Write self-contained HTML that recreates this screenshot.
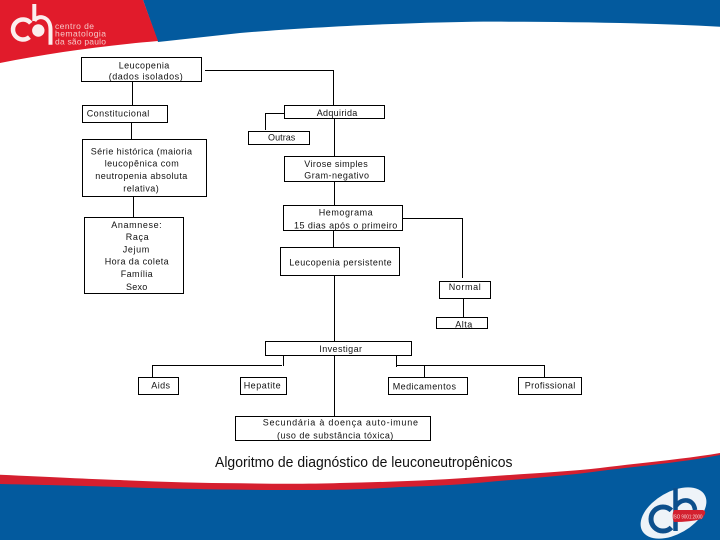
<!DOCTYPE html>
<html><head><meta charset="utf-8">
<style>
html,body{margin:0;padding:0;background:#fff;width:720px;height:540px;overflow:hidden}
svg{display:block}
text{font-family:"Liberation Sans",Arial,sans-serif;font-size:9px;fill:#111}
</style></head><body>
<svg width="720" height="540" viewBox="0 0 720 540" xmlns="http://www.w3.org/2000/svg">
<!-- top banner -->
<path d="M143,0H720V26.700C640,22.500 560,21.500 473,21.700C390,23 300,28 240,33L158,42Z" fill="#035a9e"/>
<path d="M0,0H143L158,41C100,46 50,53 0,63Z" fill="#e11b2b"/>
<!-- top logo -->
<circle cx="23" cy="29.500" r="10" fill="none" stroke="#fbeeee" stroke-width="4.500" stroke-dasharray="47 16" transform="rotate(50 23 29.500)"/>
<circle cx="38.300" cy="30.500" r="6.200" fill="#fbeeee"/>
<path d="M34.300,4V21M34.300,21C37,15 50,15 50.500,29V44.700" fill="none" stroke="#fbeeee" stroke-width="4"/>
<text x="55" y="29" textLength="39" style="font-size:8.500px;fill:#f6c9c9">centro de</text>
<text x="55" y="36.700" textLength="51" style="font-size:8.500px;fill:#f6c9c9">hematologia</text>
<text x="55" y="44.700" textLength="51" style="font-size:8.500px;fill:#f6c9c9">da são paulo</text>
<!-- bottom banner -->
<path d="M0,474.700C50,477 90,479 120,480C160,482 200,483 240,483.300C280,484 310,484 340,483C390,482 440,480 480,477C520,474 565,472 600,468C640,463 685,459 720,453V540H0Z" fill="#d51f2f"/>
<path d="M0,484C50,485 90,486 120,487C170,489 240,490 300,490C340,490 370,489 400,487C430,486 455,485 480,482.700C520,479 565,476 600,471C640,466 685,462 720,455V540H0Z" fill="#035a9e"/>
<!-- bottom logo -->
<ellipse cx="673.500" cy="513" rx="36" ry="21" transform="rotate(-30 673.500 513)" fill="#eef3f8"/>
<circle cx="663" cy="519" r="12" fill="none" stroke="#0d4f8c" stroke-width="5" stroke-dasharray="56 19" transform="rotate(45 663 519)"/>
<path d="M675.500,488V531M676,506C682,497 694,499 695,510" fill="none" stroke="#0d4f8c" stroke-width="4.500"/>
<path d="M674,510H703Q706,511 705,514L702,519Q690,522 674,522Q671,516 674,510Z" fill="#d3202f"/>
<text x="672.500" y="518.500" textLength="30" lengthAdjust="spacingAndGlyphs" style="font-size:5.500px;fill:#f5dada">ISO 9001:2000</text>
<!-- connectors -->
<g fill="none" stroke="#000" stroke-width="1">
<path d="M205,70.500H333.500V105.500"/>
<path d="M132.500,82V105"/>
<path d="M131.500,122V139"/>
<path d="M133.500,197V217"/>
<path d="M284,113.500H265.500V130"/>
<path d="M334.500,118V156"/>
<path d="M334.500,182V205"/>
<path d="M403,218.500H462.500V278"/>
<path d="M333.500,230V247"/>
<path d="M334.500,275V341"/>
<path d="M463.500,298V317"/>
<path d="M334.500,356V416"/>
<path d="M283.500,356V366"/>
<path d="M282,365.500H152.500V378"/>
<path d="M396.500,356V367"/>
<path d="M396.500,365.500H544.500V377"/>
<path d="M424.500,366V377"/>
<!-- boxes -->
<rect x="81.500" y="57.500" width="120" height="24"/>
<rect x="82.500" y="105.500" width="85" height="17"/>
<rect x="284.500" y="105.500" width="100" height="13"/>
<rect x="248.500" y="131.500" width="61" height="13"/>
<rect x="82.500" y="139.500" width="124" height="57"/>
<rect x="284.500" y="156.500" width="100" height="25"/>
<rect x="84.500" y="217.500" width="99" height="76"/>
<rect x="283.500" y="205.500" width="119" height="25"/>
<rect x="280.500" y="247.500" width="119" height="28"/>
<rect x="439.500" y="281.500" width="51" height="17"/>
<rect x="436.500" y="317.500" width="51" height="11"/>
<rect x="265.500" y="341.500" width="146" height="14"/>
<rect x="138.500" y="377.500" width="40" height="17"/>
<rect x="240.500" y="377.500" width="46" height="17"/>
<rect x="388.500" y="377.500" width="79" height="17"/>
<rect x="518.500" y="377.500" width="63" height="17"/>
<rect x="235.500" y="416.500" width="195" height="24"/>
</g>
<!-- labels -->
<text x="118.700" y="68.300" textLength="50.600">Leucopenia</text>
<text x="108.700" y="79.500" textLength="74">(dados isolados)</text>
<text x="86.700" y="116.700" textLength="62.600">Constitucional</text>
<text x="316.700" y="116" textLength="40.600">Adquirida</text>
<text x="268" y="140.700" textLength="27.300">Outras</text>
<text x="90.700" y="154.700" textLength="101.300">Série histórica (maioria</text>
<text x="104.700" y="166.700" textLength="74">leucopênica com</text>
<text x="95.300" y="179" textLength="92">neutropenia absoluta</text>
<text x="123.300" y="191.700" textLength="35.400">relativa)</text>
<text x="304.300" y="167" textLength="63.400">Virose simples</text>
<text x="304.300" y="178.700" textLength="64.700">Gram-negativo</text>
<text x="318.700" y="215.700" textLength="54">Hemograma</text>
<text x="294" y="228.700" textLength="103.300">15 dias após o primeiro</text>
<text x="111.300" y="228" textLength="50.400">Anamnese:</text>
<text x="125.700" y="240" textLength="23">Raça</text>
<text x="122.700" y="252.300" textLength="26.600">Jejum</text>
<text x="104.700" y="264.700" textLength="64">Hora da coleta</text>
<text x="120.700" y="277" textLength="32">Família</text>
<text x="126" y="290" textLength="21.300">Sexo</text>
<text x="289.300" y="265.700" textLength="102.400">Leucopenia persistente</text>
<text x="448.700" y="290" textLength="32">Normal</text>
<text x="455.300" y="327.700" textLength="17">Alta</text>
<text x="319.300" y="352" textLength="42.700">Investigar</text>
<text x="151.300" y="388.300" textLength="18.700">Aids</text>
<text x="243.700" y="388.300" textLength="37">Hepatite</text>
<text x="392.700" y="389.300" textLength="63.300">Medicamentos</text>
<text x="524.700" y="388.300" textLength="50.600">Profissional</text>
<text x="262.700" y="425.700" textLength="155.300">Secundária à doença auto-imune</text>
<text x="277" y="438.300" textLength="116.300">(uso de substância tóxica)</text>
<text x="215" y="467" textLength="297.500" lengthAdjust="spacingAndGlyphs" style="font-size:14.500px">Algoritmo de diagnóstico de leuconeutropênicos</text>
</svg>
</body></html>
